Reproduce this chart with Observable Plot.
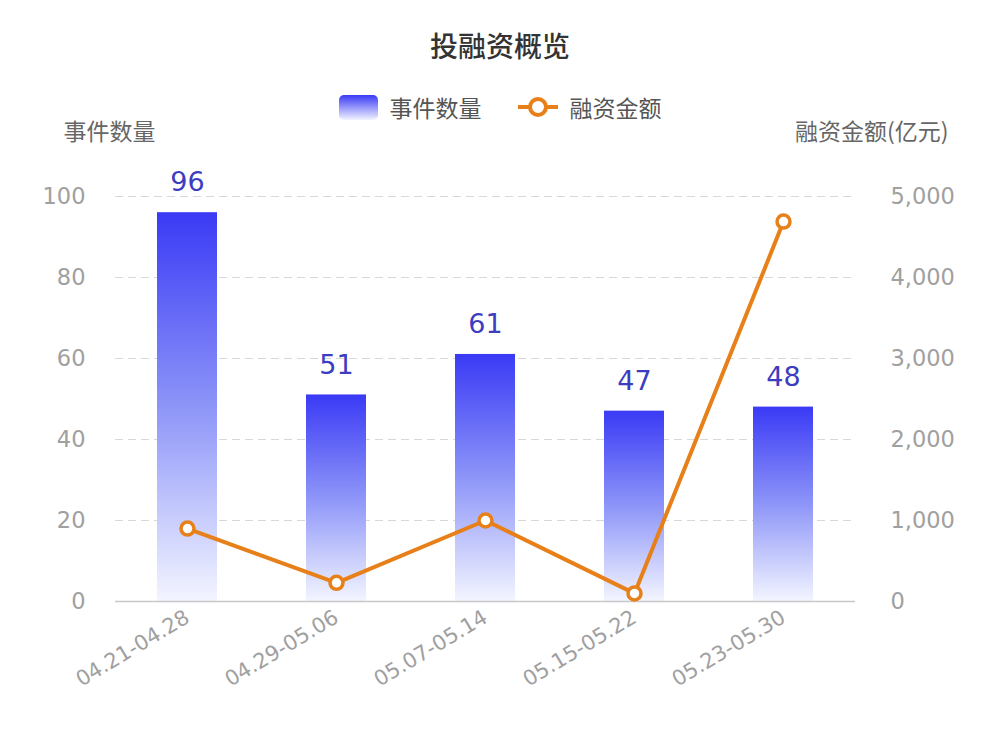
<!DOCTYPE html>
<html>
<head>
<meta charset="utf-8">
<script src="https://cdn.jsdelivr.net/npm/d3@7"></script>
<script src="https://cdn.jsdelivr.net/npm/@observablehq/plot@0.6"></script>
<style>
  html, body { margin: 0; padding: 0; background: #fff; }
  body { width: 1000px; height: 731px; overflow: hidden; font-family: "Noto Sans CJK SC", "Noto Sans", sans-serif; }
  #title { height: 88px; line-height: 90px; text-align: center; font-size: 28px; color: #333; font-weight: 500; }
  #legend { height: 38px; display: flex; justify-content: center; align-items: center; gap: 36px; font-size: 23px; color: #555; margin-left: 0px; }
  .item { display: flex; align-items: center; gap: 12px; }
  .swatch { width: 39px; height: 25px; border-radius: 5px; background: linear-gradient(#3a3af5, #f2f4ff); }
</style>
</head>
<body>
<div id="title">投融资概览</div>
<div id="legend">
  <div class="item"><div class="swatch"></div><span>事件数量</span></div>
  <div class="item"><svg width="40" height="24"><line x1="0" y1="12" x2="40" y2="12" stroke="#e8801a" stroke-width="4"/><circle cx="20" cy="12" r="8" fill="#fff" stroke="#e8801a" stroke-width="4"/></svg><span>融资金额</span></div>
</div>
<div id="chart"></div>
<script>
const categories = ["04.21-04.28", "04.29-05.06", "05.07-05.14", "05.15-05.22", "05.23-05.30"];
const eventCounts = [96, 51, 61, 47, 48];
const amounts = [900, 230, 1000, 100, 4690];
const leftTicks = [0, 20, 40, 60, 80, 100];
const rightTicks = [0, 1000, 2000, 3000, 4000, 5000];

const ratio = 50; // 5000 亿元 ↔ 100 事件
const data = categories.map((c, i) => ({cat: c, count: eventCounts[i], amount: amounts[i]}));

const defs = () => {
  const g = d3.create("svg:defs");
  const lg = g.append("linearGradient").attr("id", "barGrad").attr("x1", 0).attr("y1", 0).attr("x2", 0).attr("y2", 1);
  lg.append("stop").attr("offset", "0%").attr("stop-color", "#3a3af5");
  lg.append("stop").attr("offset", "50%").attr("stop-color", "#8d95f8");
  lg.append("stop").attr("offset", "100%").attr("stop-color", "#f3f5ff");
  return g.node();
};

const cjk = "'Noto Sans CJK SC', 'Noto Sans', sans-serif";
const num = "'DejaVu Sans', sans-serif";

const chart = Plot.plot({
  width: 1000,
  height: 605,
  marginTop: 70,
  marginBottom: 130,
  marginLeft: 115,
  marginRight: 145,
  style: {fontFamily: num, background: "#fff", overflow: "visible"},
  x: {domain: categories, paddingInner: 0.6, paddingOuter: 0.27},
  y: {domain: [0, 100]},
  marks: [
    defs,
    Plot.gridY(leftTicks.filter(d => d > 0), {stroke: "#d8d8d8", strokeOpacity: 1, strokeDasharray: "8,5", strokeWidth: 1.2}),
    Plot.barY(data, {x: "cat", y: "count", fill: "url(#barGrad)"}),
    Plot.ruleY([0], {stroke: "#c8c8c8", strokeWidth: 1.5}),
    Plot.text(data, {x: "cat", y: "count", text: d => String(d.count), dy: -30, fill: "#3d3dbf", fontSize: 27}),
    Plot.line(data, {x: "cat", y: d => d.amount / ratio, stroke: "#e8801a", strokeWidth: 4}),
    Plot.dot(data, {x: "cat", y: d => d.amount / ratio, r: 6.5, fill: "#fff", stroke: "#e8801a", strokeWidth: 3.5}),
    Plot.axisY(leftTicks, {anchor: "left", tickSize: 0, tickPadding: 30, fontSize: 22.5, color: "#a0a0a0", label: null}),
    Plot.axisY(rightTicks.map(d => d / ratio), {anchor: "right", tickSize: 0, tickPadding: 35, fontSize: 22.5, color: "#a0a0a0", label: null, tickFormat: d => d3.format(",")(d * ratio)}),
    Plot.axisX({tickSize: 0, tickPadding: 14, tickRotate: -31, fontSize: 21, color: "#a0a0a0", label: null}),
    Plot.text(["事件数量"], {frameAnchor: "top-left", dx: -52, dy: -73, textAnchor: "start", fontSize: 23, fill: "#666", fontFamily: cjk}),
    Plot.text(["融资金额(亿元)"], {frameAnchor: "top-right", dx: 93, dy: -73, textAnchor: "end", fontSize: 23, fill: "#666", fontFamily: cjk})
  ]
});
document.getElementById("chart").appendChild(chart);
</script>
</body>
</html>
